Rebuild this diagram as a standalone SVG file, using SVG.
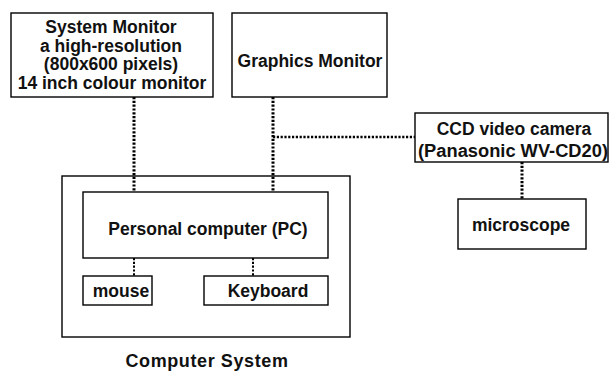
<svg xmlns="http://www.w3.org/2000/svg" width="611" height="373" viewBox="0 0 611 373">
<style>
.box{fill:#fff;stroke:#000;stroke-width:1.4}
.t{font-family:"Liberation Sans",Arial,sans-serif;font-size:17.5px;font-weight:bold;fill:#111;text-anchor:middle}
.dot{stroke:#000;stroke-width:3;stroke-dasharray:2.2 1.6;fill:none}
</style>
<rect width="611" height="373" fill="#fff"/>
<g id="connectors">
<line class="dot" x1="134" y1="97" x2="134" y2="192"/>
<line class="dot" x1="273" y1="97" x2="273" y2="192"/>
<line class="dot" x1="273" y1="137" x2="415" y2="137" style="stroke-width:2.5"/>
<line class="dot" x1="522" y1="162" x2="522" y2="199"/>
<line class="dot" x1="134" y1="258" x2="134" y2="276" style="stroke-width:2"/>
<line class="dot" x1="253" y1="258" x2="253" y2="276" style="stroke-width:2"/>
</g>
<g id="computer-system">
<rect class="box" x="62" y="176" width="288" height="161" style="fill:none"/>
<text class="t" x="207" y="367" style="font-size:18px;letter-spacing:0.6px">Computer System</text>
</g>
<g id="system-monitor">
<rect class="box" x="11" y="13" width="202" height="84"/>
<text class="t" x="111" y="33">System Monitor</text>
<text class="t" x="111" y="51.5">a high-resolution</text>
<text class="t" x="111" y="70">(800x600 pixels)</text>
<text class="t" x="112" y="89">14 inch colour monitor</text>
</g>
<g id="graphics-monitor">
<rect class="box" x="232" y="13" width="155" height="84"/>
<text class="t" x="310" y="67">Graphics Monitor</text>
</g>
<g id="ccd-camera">
<rect class="box" x="415" y="113" width="193" height="49"/>
<text class="t" x="514" y="135">CCD video camera</text>
<text class="t" x="513" y="157" style="font-size:18.3px">(Panasonic WV-CD20)</text>
</g>
<g id="microscope">
<rect class="box" x="458" y="199" width="128" height="50"/>
<text class="t" x="521" y="231">microscope</text>
</g>
<g id="pc">
<rect class="box" x="83" y="192" width="245" height="66"/>
<text class="t" x="208" y="235">Personal computer (PC)</text>
</g>
<g id="mouse">
<rect class="box" x="83" y="276" width="69" height="29"/>
<text class="t" x="121" y="297">mouse</text>
</g>
<g id="keyboard">
<rect class="box" x="204" y="276" width="124" height="29"/>
<text class="t" x="268" y="297">Keyboard</text>
</g>
</svg>
